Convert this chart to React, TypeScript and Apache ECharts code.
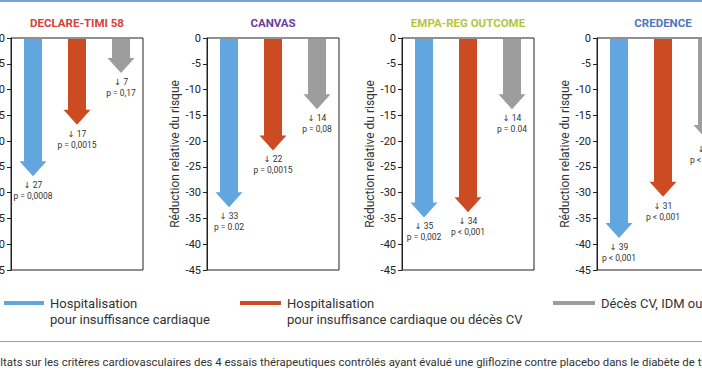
import { useEffect, useRef } from "react";
import * as echarts from "echarts";

// ---- data ----
const trials = ["DECLARE-TIMI 58", "CANVAS", "EMPA-REG OUTCOME", "CREDENCE"];
const trialColors = ["#d4423c", "#6b3e9c", "#b4c53d", "#4d78bd"];
const endpoints = [
  "Hospitalisation\npour insuffisance cardiaque",
  "Hospitalisation\npour insuffisance cardiaque ou décès CV",
  "Décès CV, IDM ou AVC",
];
const endpointColors = ["#62a6df", "#cc4b23", "#9d9d9d"];
const hfHosp = [-27, -33, -35, -39];
const hfHospOrDeath = [-17, -22, -34, -31];
const mace = [-7, -14, -14, -20];
const hfHospP = ["p = 0,0008", "p = 0.02", "p = 0,002", "p < 0,001"];
const hfHospOrDeathP = ["p = 0,0015", "p = 0,0015", "p < 0,001", "p < 0,001"];
const maceP = ["p = 0,17", "p = 0,08", "p = 0.04", "p < 0,001"];
const yMin = -45;
const yMax = 0;
const yStep = 5;
const yAxisName = "Réduction relative du risque";
const caption =
  "Résultats sur les critères cardiovasculaires des 4 essais thérapeutiques contrôlés ayant évalué une gliflozine contre placebo dans le diabète de type 2.";

const OFFSET = 60;
const INNER_W = 820;
const FONT = "Roboto, 'DejaVu Sans', sans-serif";

export default function App() {
  const ref = useRef<HTMLDivElement>(null);
  useEffect(() => {
    document.body.style.overflow = "hidden";
    if (!ref.current) return;
    const chart = echarts.init(ref.current, undefined, { renderer: "svg" });
    const gridLefts = [71, 267, 462, 657];
    const gridW = 132;
    const gridTop = 38;
    const gridH = 232;

    const grids = gridLefts.map((l) => ({
      left: l,
      top: gridTop,
      width: gridW,
      height: gridH,
      show: true,
      borderColor: "#222",
      borderWidth: 1,
      backgroundColor: "transparent",
    }));
    const xAxes = gridLefts.map((_, i) => ({
      type: "category",
      gridIndex: i,
      data: endpoints,
      boundaryGap: true,
      axisLine: { show: false },
      axisTick: { show: false },
      axisLabel: { show: false },
      splitLine: { show: false },
    }));
    const yAxes = gridLefts.map((_, i) => ({
      type: "value",
      gridIndex: i,
      min: yMin,
      max: yMax,
      interval: yStep,
      name: yAxisName,
      nameLocation: "middle",
      nameRotate: 90,
      nameGap: 26,
      nameTextStyle: { fontSize: 12, color: "#333", fontFamily: FONT },
      axisLine: { show: true, lineStyle: { color: "#222", width: 1 } },
      axisTick: { show: true, length: 4, lineStyle: { color: "#222" } },
      axisLabel: { fontSize: 11, color: "#222", margin: 6, fontFamily: FONT },
      splitLine: { show: false },
    }));

    const series = trials.map((t, i) => {
      const vals = [hfHosp[i], hfHospOrDeath[i], mace[i]];
      const ps = [hfHospP[i], hfHospOrDeathP[i], maceP[i]];
      return {
        type: "custom",
        name: t,
        xAxisIndex: i,
        yAxisIndex: i,
        clip: false,
        data: vals.map((v, k) => [k, v]),
        renderItem: (params: any, api: any) => {
          const k = params.dataIndex;
          const x = api.value(0);
          const v = api.value(1);
          const top = api.coord([x, 0]);
          const tip = api.coord([x, v]);
          const cx = top[0];
          const y0 = top[1] + 1;
          const yt = tip[1] - 1;
          const bw = 18;
          const hw = 27;
          const hh = 15;
          return {
            type: "group",
            children: [
              {
                type: "polygon",
                shape: {
                  points: [
                    [cx - bw / 2, y0],
                    [cx + bw / 2, y0],
                    [cx + bw / 2, yt - hh],
                    [cx + hw / 2, yt - hh],
                    [cx, yt],
                    [cx - hw / 2, yt - hh],
                    [cx - bw / 2, yt - hh],
                  ],
                },
                style: { fill: endpointColors[k] },
              },
              {
                type: "text",
                x: cx,
                y: yt + 9,
                style: {
                  text: "↓ " + Math.abs(vals[k]),
                  fontSize: 8.5,
                  fill: "#333",
                  align: "center",
                  verticalAlign: "middle",
                  fontFamily: FONT,
                },
              },
              {
                type: "text",
                x: cx,
                y: yt + 20,
                style: {
                  text: ps[k],
                  fontSize: 8.5,
                  fill: "#333",
                  align: "center",
                  verticalAlign: "middle",
                  fontFamily: FONT,
                },
              },
            ],
          };
        },
      };
    });

    const titleGraphics = trials.map((t, i) => ({
      type: "text",
      x: gridLefts[i] + gridW / 2,
      y: 23,
      style: {
        text: t,
        fill: trialColors[i],
        fontSize: 11.5,
        fontWeight: "bold",
        fontFamily: FONT,
        align: "center",
        verticalAlign: "middle",
      },
    }));

    const legendX = [64, 300, 613];
    const legendW = [40, 41, 42];
    const legendGraphics: any[] = [];
    endpoints.forEach((e, k) => {
      legendGraphics.push({
        type: "rect",
        shape: { x: legendX[k], y: 301, width: legendW[k], height: 4 },
        style: { fill: endpointColors[k] },
      });
      legendGraphics.push({
        type: "text",
        x: legendX[k] + legendW[k] + 6,
        y: 295,
        style: {
          text: e,
          fontSize: 13,
          lineHeight: 16,
          fill: "#333",
          fontFamily: FONT,
          align: "left",
          verticalAlign: "top",
        },
      });
    });

    chart.setOption({
      animation: false,
      backgroundColor: "#fff",
      grid: grids,
      xAxis: xAxes,
      yAxis: yAxes,
      series,
      graphic: [
        {
          type: "rect",
          shape: { x: 0, y: 0, width: INNER_W, height: 2 },
          style: { fill: "#7aa2d6" },
        },
        {
          type: "rect",
          shape: { x: 0, y: 341, width: INNER_W, height: 1 },
          style: { fill: "#7aa2d6" },
        },
        ...titleGraphics,
        ...legendGraphics,
        {
          type: "text",
          x: OFFSET - 25,
          y: 362,
          style: {
            text: caption,
            fontSize: 11.4,
            fill: "#333",
            fontFamily: FONT,
            align: "left",
            verticalAlign: "middle",
          },
        },
      ],
    });
    return () => chart.dispose();
  }, []);

  return (
    <div
      style={{
        position: "fixed",
        left: 0,
        top: 0,
        width: 702,
        height: 370,
        overflow: "hidden",
        background: "#fff",
      }}
    >
      <div
        ref={ref}
        style={{ position: "absolute", left: -OFFSET, top: 0, width: INNER_W, height: 370 }}
      />
    </div>
  );
}
